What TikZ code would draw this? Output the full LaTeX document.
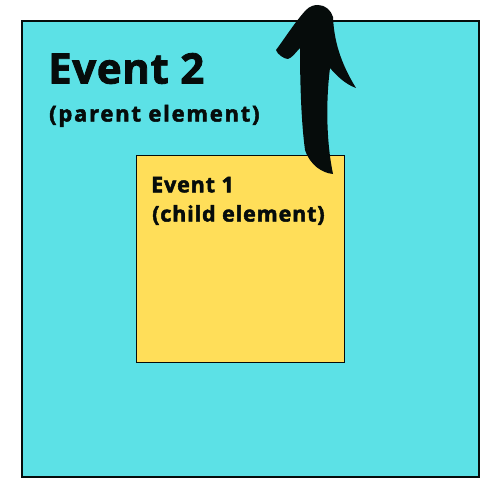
\documentclass[tikz,border=0pt]{standalone}
\usepackage{fontspec}
\setmainfont{Open Sans}
\newfontfamily\heavyA[BoldFeatures={FakeBold=2}, LetterSpace=1.5]{Open Sans}
\newfontfamily\heavyB[BoldFeatures={FakeBold=2.2}, LetterSpace=8]{Open Sans}
\newfontfamily\heavyC[BoldFeatures={FakeBold=2.2}, LetterSpace=4]{Open Sans}
\definecolor{cyanbg}{HTML}{5CE1E6}
\definecolor{yellowbg}{HTML}{FFDE59}
\definecolor{inkblack}{HTML}{060C0B}
\begin{document}
\begin{tikzpicture}[x=1pt,y=-1pt,
  outerbox/.style={draw=inkblack, line width=2pt, fill=cyanbg, minimum width=457pt, minimum height=455pt, inner sep=0pt},
  innerbox/.style={draw=inkblack, line width=1pt, fill=yellowbg, minimum width=208pt, minimum height=207pt, inner sep=0pt},
  label/.style={anchor=base west, inner sep=0pt, text=inkblack}
]
\useasboundingbox (0,0) rectangle (500,500);
\node[outerbox] (outer) at (250,249) {};
\node[innerbox] (inner) at (240,258.5) {};
\node[label, font=\heavyA\bfseries\fontsize{42}{46}\selectfont] (t2) at (48,83.5) {Event 2};
\node[label, font=\heavyB\bfseries\fontsize{22}{26}\selectfont] (t2b) at (49,121.5) {(parent element)};
\node[label, font=\heavyC\bfseries\fontsize{21.5}{26}\selectfont] (t1) at (151,192.3) {Event 1};
\node[label, font=\heavyC\bfseries\fontsize{21.5}{26}\selectfont] (t1b) at (152,221.5) {(child element)};
% brush arrow
\fill[inkblack] (318,5) .. controls (325,5) and (331,10) .. (333,17)
  .. controls (334,40) and (340,62) .. (356,88)
  .. controls (345,84) and (337,76) .. (330,68)
  .. controls (326,100) and (326,140) .. (333,174)
  .. controls (322,173) and (310,165) .. (305,150)
  .. controls (301,120) and (300,80) .. (300,48)
  .. controls (296,52) and (292,58) .. (288,59)
  .. controls (284,59) and (277,54) .. (276,50)
  .. controls (285,38) and (295,22) .. (306,10)
  .. controls (310,6) and (314,5) .. (318,5) -- cycle;
\end{tikzpicture}
\end{document}
